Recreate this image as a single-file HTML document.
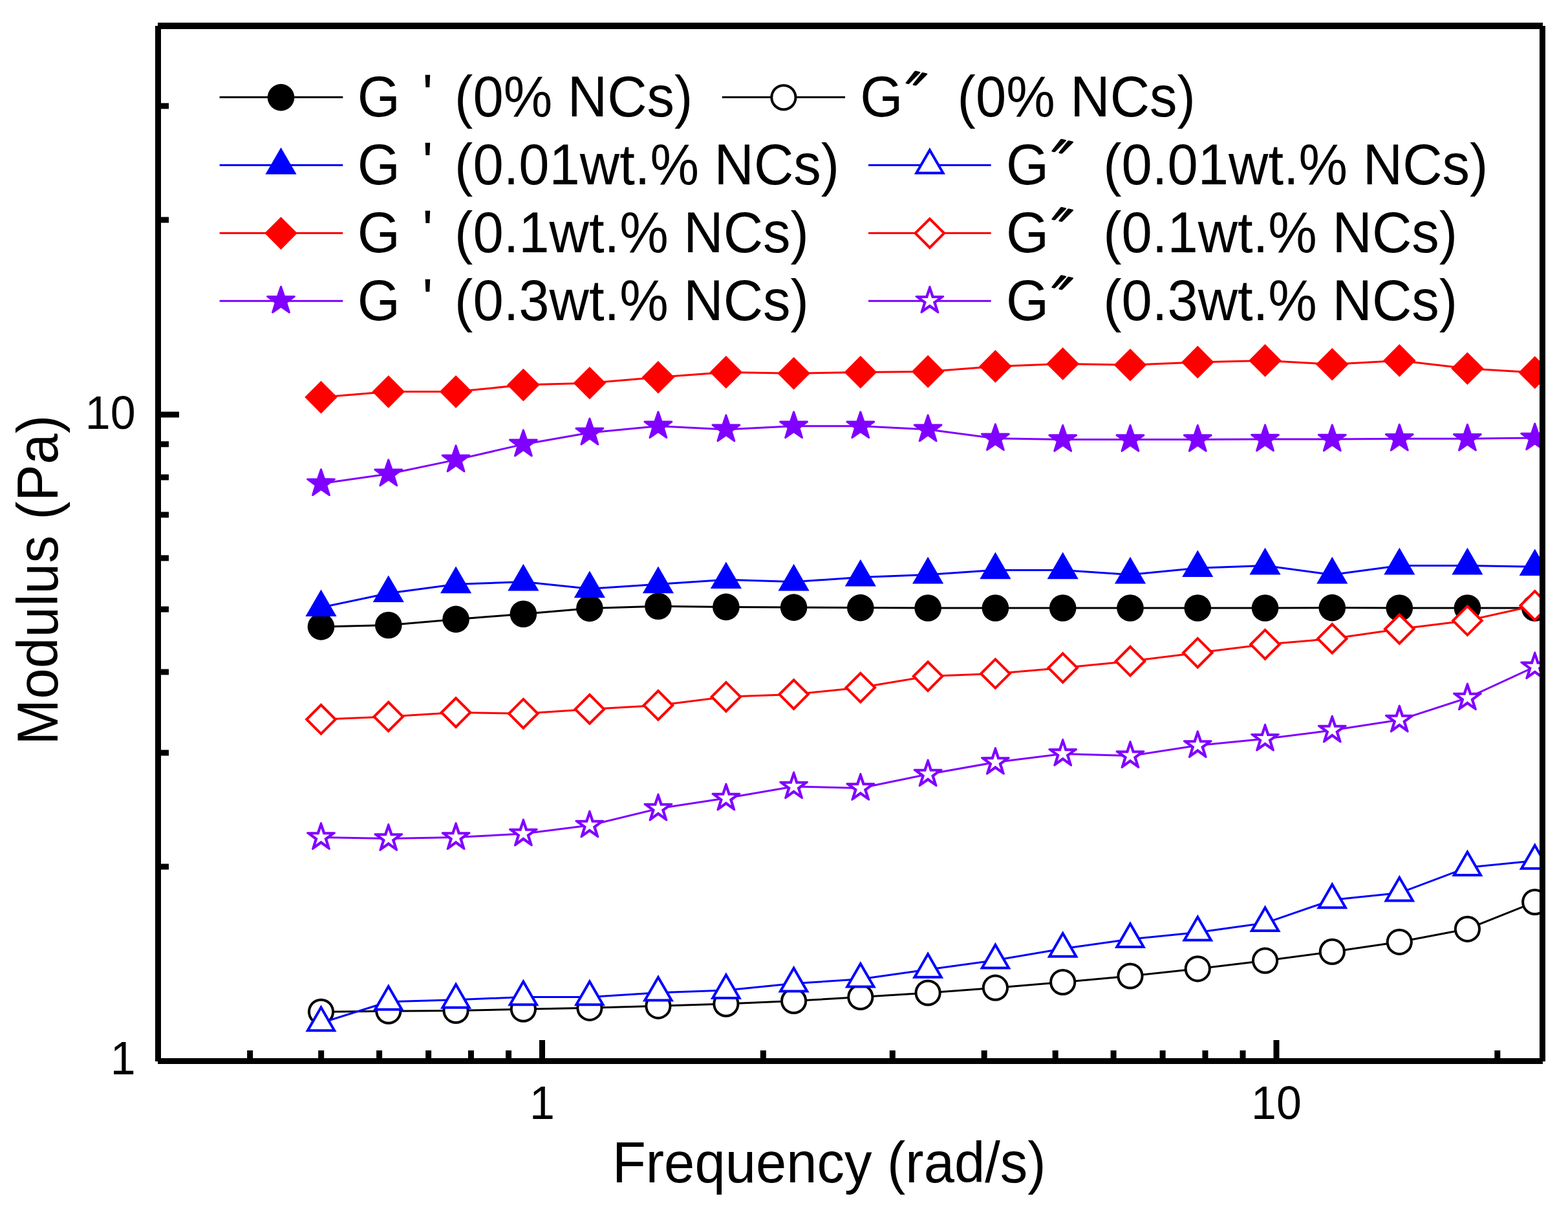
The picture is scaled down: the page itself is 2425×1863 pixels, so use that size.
<!DOCTYPE html><html><head><meta charset="utf-8"><title>Modulus vs Frequency</title><style>html,body{margin:0;padding:0;background:#fff;}svg{display:block;}</style></head><body>
<svg width="2425" height="1863" viewBox="0 0 2425 1863">
<rect x="0" y="0" width="2425" height="1863" fill="#fff"/>
<defs><clipPath id="pa"><rect x="244.5" y="40" width="2141" height="1600.5"/></clipPath></defs>
<g clip-path="url(#pa)">
<polyline points="496.5,968.9 600.79,966.5 705.08,957.4 809.37,949.3 911.9,940.4 1017.95,937.3 1122.9,938.4 1227.6,939.1 1330.82,939.6 1435.11,940 1539.4,940 1643.69,940 1747.98,940 1852.27,940 1956.56,940 2060.3,939.6 2164.3,940 2269.43,940 2373.72,940" fill="none" stroke="#000000" stroke-width="3" stroke-linejoin="round"/>
<circle cx="496.5" cy="968.9" r="20.8" fill="#000000"/><circle cx="600.79" cy="966.5" r="20.8" fill="#000000"/><circle cx="705.08" cy="957.4" r="20.8" fill="#000000"/><circle cx="809.37" cy="949.3" r="20.8" fill="#000000"/><circle cx="911.9" cy="940.4" r="20.8" fill="#000000"/><circle cx="1017.95" cy="937.3" r="20.8" fill="#000000"/><circle cx="1122.9" cy="938.4" r="20.8" fill="#000000"/><circle cx="1227.6" cy="939.1" r="20.8" fill="#000000"/><circle cx="1330.82" cy="939.6" r="20.8" fill="#000000"/><circle cx="1435.11" cy="940" r="20.8" fill="#000000"/><circle cx="1539.4" cy="940" r="20.8" fill="#000000"/><circle cx="1643.69" cy="940" r="20.8" fill="#000000"/><circle cx="1747.98" cy="940" r="20.8" fill="#000000"/><circle cx="1852.27" cy="940" r="20.8" fill="#000000"/><circle cx="1956.56" cy="940" r="20.8" fill="#000000"/><circle cx="2060.3" cy="939.6" r="20.8" fill="#000000"/><circle cx="2164.3" cy="940" r="20.8" fill="#000000"/><circle cx="2269.43" cy="940" r="20.8" fill="#000000"/><circle cx="2373.72" cy="940" r="20.8" fill="#000000"/>
<polyline points="496.5,1564.3 600.79,1563.2 705.08,1562.5 809.37,1560.2 911.9,1558.3 1017.95,1555.3 1122.9,1552.1 1227.6,1547.5 1330.82,1541.5 1435.11,1535 1539.4,1527.2 1643.69,1518.5 1747.98,1509 1852.27,1497.8 1956.56,1485.2 2060.3,1471.4 2164.3,1456.3 2269.43,1436.3 2373.72,1394.6" fill="none" stroke="#000000" stroke-width="3" stroke-linejoin="round"/>
<circle cx="496.5" cy="1564.3" r="20.6" fill="#000000"/><circle cx="496.5" cy="1564.3" r="16.6" fill="#fff"/><circle cx="600.79" cy="1563.2" r="20.6" fill="#000000"/><circle cx="600.79" cy="1563.2" r="16.6" fill="#fff"/><circle cx="705.08" cy="1562.5" r="20.6" fill="#000000"/><circle cx="705.08" cy="1562.5" r="16.6" fill="#fff"/><circle cx="809.37" cy="1560.2" r="20.6" fill="#000000"/><circle cx="809.37" cy="1560.2" r="16.6" fill="#fff"/><circle cx="911.9" cy="1558.3" r="20.6" fill="#000000"/><circle cx="911.9" cy="1558.3" r="16.6" fill="#fff"/><circle cx="1017.95" cy="1555.3" r="20.6" fill="#000000"/><circle cx="1017.95" cy="1555.3" r="16.6" fill="#fff"/><circle cx="1122.9" cy="1552.1" r="20.6" fill="#000000"/><circle cx="1122.9" cy="1552.1" r="16.6" fill="#fff"/><circle cx="1227.6" cy="1547.5" r="20.6" fill="#000000"/><circle cx="1227.6" cy="1547.5" r="16.6" fill="#fff"/><circle cx="1330.82" cy="1541.5" r="20.6" fill="#000000"/><circle cx="1330.82" cy="1541.5" r="16.6" fill="#fff"/><circle cx="1435.11" cy="1535" r="20.6" fill="#000000"/><circle cx="1435.11" cy="1535" r="16.6" fill="#fff"/><circle cx="1539.4" cy="1527.2" r="20.6" fill="#000000"/><circle cx="1539.4" cy="1527.2" r="16.6" fill="#fff"/><circle cx="1643.69" cy="1518.5" r="20.6" fill="#000000"/><circle cx="1643.69" cy="1518.5" r="16.6" fill="#fff"/><circle cx="1747.98" cy="1509" r="20.6" fill="#000000"/><circle cx="1747.98" cy="1509" r="16.6" fill="#fff"/><circle cx="1852.27" cy="1497.8" r="20.6" fill="#000000"/><circle cx="1852.27" cy="1497.8" r="16.6" fill="#fff"/><circle cx="1956.56" cy="1485.2" r="20.6" fill="#000000"/><circle cx="1956.56" cy="1485.2" r="16.6" fill="#fff"/><circle cx="2060.3" cy="1471.4" r="20.6" fill="#000000"/><circle cx="2060.3" cy="1471.4" r="16.6" fill="#fff"/><circle cx="2164.3" cy="1456.3" r="20.6" fill="#000000"/><circle cx="2164.3" cy="1456.3" r="16.6" fill="#fff"/><circle cx="2269.43" cy="1436.3" r="20.6" fill="#000000"/><circle cx="2269.43" cy="1436.3" r="16.6" fill="#fff"/><circle cx="2373.72" cy="1394.6" r="20.6" fill="#000000"/><circle cx="2373.72" cy="1394.6" r="16.6" fill="#fff"/>
<polyline points="496.5,939.2 600.79,917.2 705.08,903.3 809.37,899.6 911.9,910.3 1017.95,903.3 1122.9,896.2 1227.6,899.6 1330.82,892.5 1435.11,888.5 1539.4,881.4 1643.69,881.4 1747.98,888.5 1852.27,878.2 1956.56,874.5 2060.3,888.5 2164.3,874.5 2269.43,874.5 2373.72,876.2" fill="none" stroke="#0000FF" stroke-width="3" stroke-linejoin="round"/>
<polygon points="496.5,911.4 520.58,953.1 472.42,953.1" fill="#0000FF"/><polygon points="600.79,889.4 624.87,931.1 576.71,931.1" fill="#0000FF"/><polygon points="705.08,875.5 729.16,917.2 681,917.2" fill="#0000FF"/><polygon points="809.37,871.8 833.45,913.5 785.29,913.5" fill="#0000FF"/><polygon points="911.9,882.5 935.98,924.2 887.82,924.2" fill="#0000FF"/><polygon points="1017.95,875.5 1042.03,917.2 993.87,917.2" fill="#0000FF"/><polygon points="1122.9,868.4 1146.98,910.1 1098.82,910.1" fill="#0000FF"/><polygon points="1227.6,871.8 1251.68,913.5 1203.52,913.5" fill="#0000FF"/><polygon points="1330.82,864.7 1354.9,906.4 1306.74,906.4" fill="#0000FF"/><polygon points="1435.11,860.7 1459.19,902.4 1411.03,902.4" fill="#0000FF"/><polygon points="1539.4,853.6 1563.48,895.3 1515.32,895.3" fill="#0000FF"/><polygon points="1643.69,853.6 1667.77,895.3 1619.61,895.3" fill="#0000FF"/><polygon points="1747.98,860.7 1772.06,902.4 1723.9,902.4" fill="#0000FF"/><polygon points="1852.27,850.4 1876.35,892.1 1828.19,892.1" fill="#0000FF"/><polygon points="1956.56,846.7 1980.64,888.4 1932.48,888.4" fill="#0000FF"/><polygon points="2060.3,860.7 2084.38,902.4 2036.22,902.4" fill="#0000FF"/><polygon points="2164.3,846.7 2188.38,888.4 2140.22,888.4" fill="#0000FF"/><polygon points="2269.43,846.7 2293.51,888.4 2245.35,888.4" fill="#0000FF"/><polygon points="2373.72,848.4 2397.8,890.1 2349.64,890.1" fill="#0000FF"/>
<polyline points="496.5,1581.4 600.79,1548.8 705.08,1545.8 809.37,1541.4 911.9,1541.4 1017.95,1534.7 1122.9,1531 1227.6,1520.6 1330.82,1513.7 1435.11,1498.9 1539.4,1484.6 1643.69,1466.8 1747.98,1452 1852.27,1441.6 1956.56,1427.1 2060.3,1391.3 2164.3,1380.6 2269.43,1341.1 2373.72,1330.8" fill="none" stroke="#0000FF" stroke-width="3" stroke-linejoin="round"/>
<polygon points="496.5,1553.6 520.58,1595.3 472.42,1595.3" fill="#0000FF"/><polygon points="496.5,1561.6 513.65,1591.3 479.35,1591.3" fill="#fff"/><polygon points="600.79,1521 624.87,1562.7 576.71,1562.7" fill="#0000FF"/><polygon points="600.79,1529 617.94,1558.7 583.64,1558.7" fill="#fff"/><polygon points="705.08,1518 729.16,1559.7 681,1559.7" fill="#0000FF"/><polygon points="705.08,1526 722.23,1555.7 687.93,1555.7" fill="#fff"/><polygon points="809.37,1513.6 833.45,1555.3 785.29,1555.3" fill="#0000FF"/><polygon points="809.37,1521.6 826.52,1551.3 792.22,1551.3" fill="#fff"/><polygon points="911.9,1513.6 935.98,1555.3 887.82,1555.3" fill="#0000FF"/><polygon points="911.9,1521.6 929.05,1551.3 894.75,1551.3" fill="#fff"/><polygon points="1017.95,1506.9 1042.03,1548.6 993.87,1548.6" fill="#0000FF"/><polygon points="1017.95,1514.9 1035.1,1544.6 1000.8,1544.6" fill="#fff"/><polygon points="1122.9,1503.2 1146.98,1544.9 1098.82,1544.9" fill="#0000FF"/><polygon points="1122.9,1511.2 1140.05,1540.9 1105.75,1540.9" fill="#fff"/><polygon points="1227.6,1492.8 1251.68,1534.5 1203.52,1534.5" fill="#0000FF"/><polygon points="1227.6,1500.8 1244.75,1530.5 1210.45,1530.5" fill="#fff"/><polygon points="1330.82,1485.9 1354.9,1527.6 1306.74,1527.6" fill="#0000FF"/><polygon points="1330.82,1493.9 1347.97,1523.6 1313.67,1523.6" fill="#fff"/><polygon points="1435.11,1471.1 1459.19,1512.8 1411.03,1512.8" fill="#0000FF"/><polygon points="1435.11,1479.1 1452.26,1508.8 1417.96,1508.8" fill="#fff"/><polygon points="1539.4,1456.8 1563.48,1498.5 1515.32,1498.5" fill="#0000FF"/><polygon points="1539.4,1464.8 1556.55,1494.5 1522.25,1494.5" fill="#fff"/><polygon points="1643.69,1439 1667.77,1480.7 1619.61,1480.7" fill="#0000FF"/><polygon points="1643.69,1447 1660.84,1476.7 1626.54,1476.7" fill="#fff"/><polygon points="1747.98,1424.2 1772.06,1465.9 1723.9,1465.9" fill="#0000FF"/><polygon points="1747.98,1432.2 1765.13,1461.9 1730.83,1461.9" fill="#fff"/><polygon points="1852.27,1413.8 1876.35,1455.5 1828.19,1455.5" fill="#0000FF"/><polygon points="1852.27,1421.8 1869.42,1451.5 1835.12,1451.5" fill="#fff"/><polygon points="1956.56,1399.3 1980.64,1441 1932.48,1441" fill="#0000FF"/><polygon points="1956.56,1407.3 1973.71,1437 1939.41,1437" fill="#fff"/><polygon points="2060.3,1363.5 2084.38,1405.2 2036.22,1405.2" fill="#0000FF"/><polygon points="2060.3,1371.5 2077.45,1401.2 2043.15,1401.2" fill="#fff"/><polygon points="2164.3,1352.8 2188.38,1394.5 2140.22,1394.5" fill="#0000FF"/><polygon points="2164.3,1360.8 2181.45,1390.5 2147.15,1390.5" fill="#fff"/><polygon points="2269.43,1313.3 2293.51,1355 2245.35,1355" fill="#0000FF"/><polygon points="2269.43,1321.3 2286.58,1351 2252.28,1351" fill="#fff"/><polygon points="2373.72,1303 2397.8,1344.7 2349.64,1344.7" fill="#0000FF"/><polygon points="2373.72,1311 2390.87,1340.7 2356.57,1340.7" fill="#fff"/>
<polyline points="496.5,614.1 600.79,605.6 705.08,605.6 809.37,595.1 911.9,592.3 1017.95,583.3 1122.9,575.4 1227.6,577.2 1330.82,575.4 1435.11,574.4 1539.4,566.4 1643.69,562.4 1747.98,564.3 1852.27,559.9 1956.56,557.4 2060.3,563.3 2164.3,557.4 2269.43,569.7 2373.72,575.9" fill="none" stroke="#FF0000" stroke-width="3" stroke-linejoin="round"/>
<polygon points="496.5,588.8 521.8,614.1 496.5,639.4 471.2,614.1" fill="#FF0000"/><polygon points="600.79,580.3 626.09,605.6 600.79,630.9 575.49,605.6" fill="#FF0000"/><polygon points="705.08,580.3 730.38,605.6 705.08,630.9 679.78,605.6" fill="#FF0000"/><polygon points="809.37,569.8 834.67,595.1 809.37,620.4 784.07,595.1" fill="#FF0000"/><polygon points="911.9,567 937.2,592.3 911.9,617.6 886.6,592.3" fill="#FF0000"/><polygon points="1017.95,558 1043.25,583.3 1017.95,608.6 992.65,583.3" fill="#FF0000"/><polygon points="1122.9,550.1 1148.2,575.4 1122.9,600.7 1097.6,575.4" fill="#FF0000"/><polygon points="1227.6,551.9 1252.9,577.2 1227.6,602.5 1202.3,577.2" fill="#FF0000"/><polygon points="1330.82,550.1 1356.12,575.4 1330.82,600.7 1305.52,575.4" fill="#FF0000"/><polygon points="1435.11,549.1 1460.41,574.4 1435.11,599.7 1409.81,574.4" fill="#FF0000"/><polygon points="1539.4,541.1 1564.7,566.4 1539.4,591.7 1514.1,566.4" fill="#FF0000"/><polygon points="1643.69,537.1 1668.99,562.4 1643.69,587.7 1618.39,562.4" fill="#FF0000"/><polygon points="1747.98,539 1773.28,564.3 1747.98,589.6 1722.68,564.3" fill="#FF0000"/><polygon points="1852.27,534.6 1877.57,559.9 1852.27,585.2 1826.97,559.9" fill="#FF0000"/><polygon points="1956.56,532.1 1981.86,557.4 1956.56,582.7 1931.26,557.4" fill="#FF0000"/><polygon points="2060.3,538 2085.6,563.3 2060.3,588.6 2035,563.3" fill="#FF0000"/><polygon points="2164.3,532.1 2189.6,557.4 2164.3,582.7 2139,557.4" fill="#FF0000"/><polygon points="2269.43,544.4 2294.73,569.7 2269.43,595 2244.13,569.7" fill="#FF0000"/><polygon points="2373.72,550.6 2399.02,575.9 2373.72,601.2 2348.42,575.9" fill="#FF0000"/>
<polyline points="496.5,1112.2 600.79,1107.9 705.08,1101.6 809.37,1103.3 911.9,1096.4 1017.95,1090.4 1122.9,1077.3 1227.6,1073.6 1330.82,1063.1 1435.11,1045.6 1539.4,1041.5 1643.69,1032.6 1747.98,1022.2 1852.27,1009.3 1956.56,996.3 2060.3,987.4 2164.3,972.6 2269.43,959.5 2373.72,936.3" fill="none" stroke="#FF0000" stroke-width="3" stroke-linejoin="round"/>
<polygon points="496.5,1087.1 521.6,1112.2 496.5,1137.3 471.4,1112.2" fill="#FF0000"/><polygon points="496.5,1092.76 515.94,1112.2 496.5,1131.64 477.06,1112.2" fill="#fff"/><polygon points="600.79,1082.8 625.89,1107.9 600.79,1133 575.69,1107.9" fill="#FF0000"/><polygon points="600.79,1088.46 620.23,1107.9 600.79,1127.34 581.35,1107.9" fill="#fff"/><polygon points="705.08,1076.5 730.18,1101.6 705.08,1126.7 679.98,1101.6" fill="#FF0000"/><polygon points="705.08,1082.16 724.52,1101.6 705.08,1121.04 685.64,1101.6" fill="#fff"/><polygon points="809.37,1078.2 834.47,1103.3 809.37,1128.4 784.27,1103.3" fill="#FF0000"/><polygon points="809.37,1083.86 828.81,1103.3 809.37,1122.74 789.93,1103.3" fill="#fff"/><polygon points="911.9,1071.3 937,1096.4 911.9,1121.5 886.8,1096.4" fill="#FF0000"/><polygon points="911.9,1076.96 931.34,1096.4 911.9,1115.84 892.46,1096.4" fill="#fff"/><polygon points="1017.95,1065.3 1043.05,1090.4 1017.95,1115.5 992.85,1090.4" fill="#FF0000"/><polygon points="1017.95,1070.96 1037.39,1090.4 1017.95,1109.84 998.51,1090.4" fill="#fff"/><polygon points="1122.9,1052.2 1148,1077.3 1122.9,1102.4 1097.8,1077.3" fill="#FF0000"/><polygon points="1122.9,1057.86 1142.34,1077.3 1122.9,1096.74 1103.46,1077.3" fill="#fff"/><polygon points="1227.6,1048.5 1252.7,1073.6 1227.6,1098.7 1202.5,1073.6" fill="#FF0000"/><polygon points="1227.6,1054.16 1247.04,1073.6 1227.6,1093.04 1208.16,1073.6" fill="#fff"/><polygon points="1330.82,1038 1355.92,1063.1 1330.82,1088.2 1305.72,1063.1" fill="#FF0000"/><polygon points="1330.82,1043.66 1350.26,1063.1 1330.82,1082.54 1311.38,1063.1" fill="#fff"/><polygon points="1435.11,1020.5 1460.21,1045.6 1435.11,1070.7 1410.01,1045.6" fill="#FF0000"/><polygon points="1435.11,1026.16 1454.55,1045.6 1435.11,1065.04 1415.67,1045.6" fill="#fff"/><polygon points="1539.4,1016.4 1564.5,1041.5 1539.4,1066.6 1514.3,1041.5" fill="#FF0000"/><polygon points="1539.4,1022.06 1558.84,1041.5 1539.4,1060.94 1519.96,1041.5" fill="#fff"/><polygon points="1643.69,1007.5 1668.79,1032.6 1643.69,1057.7 1618.59,1032.6" fill="#FF0000"/><polygon points="1643.69,1013.16 1663.13,1032.6 1643.69,1052.04 1624.25,1032.6" fill="#fff"/><polygon points="1747.98,997.1 1773.08,1022.2 1747.98,1047.3 1722.88,1022.2" fill="#FF0000"/><polygon points="1747.98,1002.76 1767.42,1022.2 1747.98,1041.64 1728.54,1022.2" fill="#fff"/><polygon points="1852.27,984.2 1877.37,1009.3 1852.27,1034.4 1827.17,1009.3" fill="#FF0000"/><polygon points="1852.27,989.86 1871.71,1009.3 1852.27,1028.74 1832.83,1009.3" fill="#fff"/><polygon points="1956.56,971.2 1981.66,996.3 1956.56,1021.4 1931.46,996.3" fill="#FF0000"/><polygon points="1956.56,976.86 1976,996.3 1956.56,1015.74 1937.12,996.3" fill="#fff"/><polygon points="2060.3,962.3 2085.4,987.4 2060.3,1012.5 2035.2,987.4" fill="#FF0000"/><polygon points="2060.3,967.96 2079.74,987.4 2060.3,1006.84 2040.86,987.4" fill="#fff"/><polygon points="2164.3,947.5 2189.4,972.6 2164.3,997.7 2139.2,972.6" fill="#FF0000"/><polygon points="2164.3,953.16 2183.74,972.6 2164.3,992.04 2144.86,972.6" fill="#fff"/><polygon points="2269.43,934.4 2294.53,959.5 2269.43,984.6 2244.33,959.5" fill="#FF0000"/><polygon points="2269.43,940.06 2288.87,959.5 2269.43,978.94 2249.99,959.5" fill="#fff"/><polygon points="2373.72,911.2 2398.82,936.3 2373.72,961.4 2348.62,936.3" fill="#FF0000"/><polygon points="2373.72,916.86 2393.16,936.3 2373.72,955.74 2354.28,936.3" fill="#fff"/>
<polyline points="496.5,747.7 600.79,732.8 705.08,710.9 809.37,686.9 911.9,669.1 1017.95,658.8 1122.9,663.9 1227.6,658.8 1330.82,658.8 1435.11,663.9 1539.4,677.8 1643.69,679.5 1747.98,679.5 1852.27,679.5 1956.56,679 2060.3,679 2164.3,678.3 2269.43,678.3 2373.72,677" fill="none" stroke="#8000FF" stroke-width="3" stroke-linejoin="round"/>
<polygon points="496.5,725.7 501.61,740.66 517.42,740.9 504.77,750.39 509.43,765.5 496.5,756.4 483.57,765.5 488.23,750.39 475.58,740.9 491.39,740.66" fill="#8000FF" stroke="#8000FF" stroke-width="3" stroke-linejoin="round"/><polygon points="600.79,710.8 605.9,725.76 621.71,726 609.06,735.49 613.72,750.6 600.79,741.5 587.86,750.6 592.52,735.49 579.87,726 595.68,725.76" fill="#8000FF" stroke="#8000FF" stroke-width="3" stroke-linejoin="round"/><polygon points="705.08,688.9 710.19,703.86 726,704.1 713.35,713.59 718.01,728.7 705.08,719.6 692.15,728.7 696.81,713.59 684.16,704.1 699.97,703.86" fill="#8000FF" stroke="#8000FF" stroke-width="3" stroke-linejoin="round"/><polygon points="809.37,664.9 814.48,679.86 830.29,680.1 817.64,689.59 822.3,704.7 809.37,695.6 796.44,704.7 801.1,689.59 788.45,680.1 804.26,679.86" fill="#8000FF" stroke="#8000FF" stroke-width="3" stroke-linejoin="round"/><polygon points="911.9,647.1 917.01,662.06 932.82,662.3 920.17,671.79 924.83,686.9 911.9,677.8 898.97,686.9 903.63,671.79 890.98,662.3 906.79,662.06" fill="#8000FF" stroke="#8000FF" stroke-width="3" stroke-linejoin="round"/><polygon points="1017.95,636.8 1023.06,651.76 1038.87,652 1026.22,661.49 1030.88,676.6 1017.95,667.5 1005.02,676.6 1009.68,661.49 997.03,652 1012.84,651.76" fill="#8000FF" stroke="#8000FF" stroke-width="3" stroke-linejoin="round"/><polygon points="1122.9,641.9 1128.01,656.86 1143.82,657.1 1131.17,666.59 1135.83,681.7 1122.9,672.6 1109.97,681.7 1114.63,666.59 1101.98,657.1 1117.79,656.86" fill="#8000FF" stroke="#8000FF" stroke-width="3" stroke-linejoin="round"/><polygon points="1227.6,636.8 1232.71,651.76 1248.52,652 1235.87,661.49 1240.53,676.6 1227.6,667.5 1214.67,676.6 1219.33,661.49 1206.68,652 1222.49,651.76" fill="#8000FF" stroke="#8000FF" stroke-width="3" stroke-linejoin="round"/><polygon points="1330.82,636.8 1335.93,651.76 1351.74,652 1339.09,661.49 1343.75,676.6 1330.82,667.5 1317.89,676.6 1322.55,661.49 1309.9,652 1325.71,651.76" fill="#8000FF" stroke="#8000FF" stroke-width="3" stroke-linejoin="round"/><polygon points="1435.11,641.9 1440.22,656.86 1456.03,657.1 1443.38,666.59 1448.04,681.7 1435.11,672.6 1422.18,681.7 1426.84,666.59 1414.19,657.1 1430,656.86" fill="#8000FF" stroke="#8000FF" stroke-width="3" stroke-linejoin="round"/><polygon points="1539.4,655.8 1544.51,670.76 1560.32,671 1547.67,680.49 1552.33,695.6 1539.4,686.5 1526.47,695.6 1531.13,680.49 1518.48,671 1534.29,670.76" fill="#8000FF" stroke="#8000FF" stroke-width="3" stroke-linejoin="round"/><polygon points="1643.69,657.5 1648.8,672.46 1664.61,672.7 1651.96,682.19 1656.62,697.3 1643.69,688.2 1630.76,697.3 1635.42,682.19 1622.77,672.7 1638.58,672.46" fill="#8000FF" stroke="#8000FF" stroke-width="3" stroke-linejoin="round"/><polygon points="1747.98,657.5 1753.09,672.46 1768.9,672.7 1756.25,682.19 1760.91,697.3 1747.98,688.2 1735.05,697.3 1739.71,682.19 1727.06,672.7 1742.87,672.46" fill="#8000FF" stroke="#8000FF" stroke-width="3" stroke-linejoin="round"/><polygon points="1852.27,657.5 1857.38,672.46 1873.19,672.7 1860.54,682.19 1865.2,697.3 1852.27,688.2 1839.34,697.3 1844,682.19 1831.35,672.7 1847.16,672.46" fill="#8000FF" stroke="#8000FF" stroke-width="3" stroke-linejoin="round"/><polygon points="1956.56,657 1961.67,671.96 1977.48,672.2 1964.83,681.69 1969.49,696.8 1956.56,687.7 1943.63,696.8 1948.29,681.69 1935.64,672.2 1951.45,671.96" fill="#8000FF" stroke="#8000FF" stroke-width="3" stroke-linejoin="round"/><polygon points="2060.3,657 2065.41,671.96 2081.22,672.2 2068.57,681.69 2073.23,696.8 2060.3,687.7 2047.37,696.8 2052.03,681.69 2039.38,672.2 2055.19,671.96" fill="#8000FF" stroke="#8000FF" stroke-width="3" stroke-linejoin="round"/><polygon points="2164.3,656.3 2169.41,671.26 2185.22,671.5 2172.57,680.99 2177.23,696.1 2164.3,687 2151.37,696.1 2156.03,680.99 2143.38,671.5 2159.19,671.26" fill="#8000FF" stroke="#8000FF" stroke-width="3" stroke-linejoin="round"/><polygon points="2269.43,656.3 2274.54,671.26 2290.35,671.5 2277.7,680.99 2282.36,696.1 2269.43,687 2256.5,696.1 2261.16,680.99 2248.51,671.5 2264.32,671.26" fill="#8000FF" stroke="#8000FF" stroke-width="3" stroke-linejoin="round"/><polygon points="2373.72,655 2378.83,669.96 2394.64,670.2 2381.99,679.69 2386.65,694.8 2373.72,685.7 2360.79,694.8 2365.45,679.69 2352.8,670.2 2368.61,669.96" fill="#8000FF" stroke="#8000FF" stroke-width="3" stroke-linejoin="round"/>
<polyline points="496.5,1294.6 600.79,1296.5 705.08,1294.6 809.37,1289.1 911.9,1276 1017.95,1250.1 1122.9,1234.1 1227.6,1216 1330.82,1218.5 1435.11,1197 1539.4,1178.5 1643.69,1165.4 1747.98,1168.6 1852.27,1152.6 1956.56,1142.2 2060.3,1129.1 2164.3,1113.1 2269.43,1079 2373.72,1030.9" fill="none" stroke="#8000FF" stroke-width="3" stroke-linejoin="round"/>
<polygon points="496.5,1272.6 501.61,1287.56 517.42,1287.8 504.77,1297.29 509.43,1312.4 496.5,1303.3 483.57,1312.4 488.23,1297.29 475.58,1287.8 491.39,1287.56" fill="#8000FF" stroke="#8000FF" stroke-width="3" stroke-linejoin="round"/><polygon points="496.5,1280.8 499.6,1290.34 509.62,1290.34 501.51,1296.23 504.61,1305.76 496.5,1299.87 488.39,1305.76 491.49,1296.23 483.38,1290.34 493.4,1290.34" fill="#fff"/><polygon points="600.79,1274.5 605.9,1289.46 621.71,1289.7 609.06,1299.19 613.72,1314.3 600.79,1305.2 587.86,1314.3 592.52,1299.19 579.87,1289.7 595.68,1289.46" fill="#8000FF" stroke="#8000FF" stroke-width="3" stroke-linejoin="round"/><polygon points="600.79,1282.7 603.89,1292.24 613.91,1292.24 605.8,1298.13 608.9,1307.66 600.79,1301.77 592.68,1307.66 595.78,1298.13 587.67,1292.24 597.69,1292.24" fill="#fff"/><polygon points="705.08,1272.6 710.19,1287.56 726,1287.8 713.35,1297.29 718.01,1312.4 705.08,1303.3 692.15,1312.4 696.81,1297.29 684.16,1287.8 699.97,1287.56" fill="#8000FF" stroke="#8000FF" stroke-width="3" stroke-linejoin="round"/><polygon points="705.08,1280.8 708.18,1290.34 718.2,1290.34 710.09,1296.23 713.19,1305.76 705.08,1299.87 696.97,1305.76 700.07,1296.23 691.96,1290.34 701.98,1290.34" fill="#fff"/><polygon points="809.37,1267.1 814.48,1282.06 830.29,1282.3 817.64,1291.79 822.3,1306.9 809.37,1297.8 796.44,1306.9 801.1,1291.79 788.45,1282.3 804.26,1282.06" fill="#8000FF" stroke="#8000FF" stroke-width="3" stroke-linejoin="round"/><polygon points="809.37,1275.3 812.47,1284.84 822.49,1284.84 814.38,1290.73 817.48,1300.26 809.37,1294.37 801.26,1300.26 804.36,1290.73 796.25,1284.84 806.27,1284.84" fill="#fff"/><polygon points="911.9,1254 917.01,1268.96 932.82,1269.2 920.17,1278.69 924.83,1293.8 911.9,1284.7 898.97,1293.8 903.63,1278.69 890.98,1269.2 906.79,1268.96" fill="#8000FF" stroke="#8000FF" stroke-width="3" stroke-linejoin="round"/><polygon points="911.9,1262.2 915,1271.74 925.02,1271.74 916.91,1277.63 920.01,1287.16 911.9,1281.27 903.79,1287.16 906.89,1277.63 898.78,1271.74 908.8,1271.74" fill="#fff"/><polygon points="1017.95,1228.1 1023.06,1243.06 1038.87,1243.3 1026.22,1252.79 1030.88,1267.9 1017.95,1258.8 1005.02,1267.9 1009.68,1252.79 997.03,1243.3 1012.84,1243.06" fill="#8000FF" stroke="#8000FF" stroke-width="3" stroke-linejoin="round"/><polygon points="1017.95,1236.3 1021.05,1245.84 1031.07,1245.84 1022.96,1251.73 1026.06,1261.26 1017.95,1255.37 1009.84,1261.26 1012.94,1251.73 1004.83,1245.84 1014.85,1245.84" fill="#fff"/><polygon points="1122.9,1212.1 1128.01,1227.06 1143.82,1227.3 1131.17,1236.79 1135.83,1251.9 1122.9,1242.8 1109.97,1251.9 1114.63,1236.79 1101.98,1227.3 1117.79,1227.06" fill="#8000FF" stroke="#8000FF" stroke-width="3" stroke-linejoin="round"/><polygon points="1122.9,1220.3 1126,1229.84 1136.02,1229.84 1127.91,1235.73 1131.01,1245.26 1122.9,1239.37 1114.79,1245.26 1117.89,1235.73 1109.78,1229.84 1119.8,1229.84" fill="#fff"/><polygon points="1227.6,1194 1232.71,1208.96 1248.52,1209.2 1235.87,1218.69 1240.53,1233.8 1227.6,1224.7 1214.67,1233.8 1219.33,1218.69 1206.68,1209.2 1222.49,1208.96" fill="#8000FF" stroke="#8000FF" stroke-width="3" stroke-linejoin="round"/><polygon points="1227.6,1202.2 1230.7,1211.74 1240.72,1211.74 1232.61,1217.63 1235.71,1227.16 1227.6,1221.27 1219.49,1227.16 1222.59,1217.63 1214.48,1211.74 1224.5,1211.74" fill="#fff"/><polygon points="1330.82,1196.5 1335.93,1211.46 1351.74,1211.7 1339.09,1221.19 1343.75,1236.3 1330.82,1227.2 1317.89,1236.3 1322.55,1221.19 1309.9,1211.7 1325.71,1211.46" fill="#8000FF" stroke="#8000FF" stroke-width="3" stroke-linejoin="round"/><polygon points="1330.82,1204.7 1333.92,1214.24 1343.94,1214.24 1335.83,1220.13 1338.93,1229.66 1330.82,1223.77 1322.71,1229.66 1325.81,1220.13 1317.7,1214.24 1327.72,1214.24" fill="#fff"/><polygon points="1435.11,1175 1440.22,1189.96 1456.03,1190.2 1443.38,1199.69 1448.04,1214.8 1435.11,1205.7 1422.18,1214.8 1426.84,1199.69 1414.19,1190.2 1430,1189.96" fill="#8000FF" stroke="#8000FF" stroke-width="3" stroke-linejoin="round"/><polygon points="1435.11,1183.2 1438.21,1192.74 1448.23,1192.74 1440.12,1198.63 1443.22,1208.16 1435.11,1202.27 1427,1208.16 1430.1,1198.63 1421.99,1192.74 1432.01,1192.74" fill="#fff"/><polygon points="1539.4,1156.5 1544.51,1171.46 1560.32,1171.7 1547.67,1181.19 1552.33,1196.3 1539.4,1187.2 1526.47,1196.3 1531.13,1181.19 1518.48,1171.7 1534.29,1171.46" fill="#8000FF" stroke="#8000FF" stroke-width="3" stroke-linejoin="round"/><polygon points="1539.4,1164.7 1542.5,1174.24 1552.52,1174.24 1544.41,1180.13 1547.51,1189.66 1539.4,1183.77 1531.29,1189.66 1534.39,1180.13 1526.28,1174.24 1536.3,1174.24" fill="#fff"/><polygon points="1643.69,1143.4 1648.8,1158.36 1664.61,1158.6 1651.96,1168.09 1656.62,1183.2 1643.69,1174.1 1630.76,1183.2 1635.42,1168.09 1622.77,1158.6 1638.58,1158.36" fill="#8000FF" stroke="#8000FF" stroke-width="3" stroke-linejoin="round"/><polygon points="1643.69,1151.6 1646.79,1161.14 1656.81,1161.14 1648.7,1167.03 1651.8,1176.56 1643.69,1170.67 1635.58,1176.56 1638.68,1167.03 1630.57,1161.14 1640.59,1161.14" fill="#fff"/><polygon points="1747.98,1146.6 1753.09,1161.56 1768.9,1161.8 1756.25,1171.29 1760.91,1186.4 1747.98,1177.3 1735.05,1186.4 1739.71,1171.29 1727.06,1161.8 1742.87,1161.56" fill="#8000FF" stroke="#8000FF" stroke-width="3" stroke-linejoin="round"/><polygon points="1747.98,1154.8 1751.08,1164.34 1761.1,1164.34 1752.99,1170.23 1756.09,1179.76 1747.98,1173.87 1739.87,1179.76 1742.97,1170.23 1734.86,1164.34 1744.88,1164.34" fill="#fff"/><polygon points="1852.27,1130.6 1857.38,1145.56 1873.19,1145.8 1860.54,1155.29 1865.2,1170.4 1852.27,1161.3 1839.34,1170.4 1844,1155.29 1831.35,1145.8 1847.16,1145.56" fill="#8000FF" stroke="#8000FF" stroke-width="3" stroke-linejoin="round"/><polygon points="1852.27,1138.8 1855.37,1148.34 1865.39,1148.34 1857.28,1154.23 1860.38,1163.76 1852.27,1157.87 1844.16,1163.76 1847.26,1154.23 1839.15,1148.34 1849.17,1148.34" fill="#fff"/><polygon points="1956.56,1120.2 1961.67,1135.16 1977.48,1135.4 1964.83,1144.89 1969.49,1160 1956.56,1150.9 1943.63,1160 1948.29,1144.89 1935.64,1135.4 1951.45,1135.16" fill="#8000FF" stroke="#8000FF" stroke-width="3" stroke-linejoin="round"/><polygon points="1956.56,1128.4 1959.66,1137.94 1969.68,1137.94 1961.57,1143.83 1964.67,1153.36 1956.56,1147.47 1948.45,1153.36 1951.55,1143.83 1943.44,1137.94 1953.46,1137.94" fill="#fff"/><polygon points="2060.3,1107.1 2065.41,1122.06 2081.22,1122.3 2068.57,1131.79 2073.23,1146.9 2060.3,1137.8 2047.37,1146.9 2052.03,1131.79 2039.38,1122.3 2055.19,1122.06" fill="#8000FF" stroke="#8000FF" stroke-width="3" stroke-linejoin="round"/><polygon points="2060.3,1115.3 2063.4,1124.84 2073.42,1124.84 2065.31,1130.73 2068.41,1140.26 2060.3,1134.37 2052.19,1140.26 2055.29,1130.73 2047.18,1124.84 2057.2,1124.84" fill="#fff"/><polygon points="2164.3,1091.1 2169.41,1106.06 2185.22,1106.3 2172.57,1115.79 2177.23,1130.9 2164.3,1121.8 2151.37,1130.9 2156.03,1115.79 2143.38,1106.3 2159.19,1106.06" fill="#8000FF" stroke="#8000FF" stroke-width="3" stroke-linejoin="round"/><polygon points="2164.3,1099.3 2167.4,1108.84 2177.42,1108.84 2169.31,1114.73 2172.41,1124.26 2164.3,1118.37 2156.19,1124.26 2159.29,1114.73 2151.18,1108.84 2161.2,1108.84" fill="#fff"/><polygon points="2269.43,1057 2274.54,1071.96 2290.35,1072.2 2277.7,1081.69 2282.36,1096.8 2269.43,1087.7 2256.5,1096.8 2261.16,1081.69 2248.51,1072.2 2264.32,1071.96" fill="#8000FF" stroke="#8000FF" stroke-width="3" stroke-linejoin="round"/><polygon points="2269.43,1065.2 2272.53,1074.74 2282.55,1074.74 2274.44,1080.63 2277.54,1090.16 2269.43,1084.27 2261.32,1090.16 2264.42,1080.63 2256.31,1074.74 2266.33,1074.74" fill="#fff"/><polygon points="2373.72,1008.9 2378.83,1023.86 2394.64,1024.1 2381.99,1033.59 2386.65,1048.7 2373.72,1039.6 2360.79,1048.7 2365.45,1033.59 2352.8,1024.1 2368.61,1023.86" fill="#8000FF" stroke="#8000FF" stroke-width="3" stroke-linejoin="round"/><polygon points="2373.72,1017.1 2376.82,1026.64 2386.84,1026.64 2378.73,1032.53 2381.83,1042.06 2373.72,1036.17 2365.61,1042.06 2368.71,1032.53 2360.6,1026.64 2370.62,1026.64" fill="#fff"/>
</g>
<g fill="#000">
<rect x="244" y="35" width="2142" height="10"/>
<rect x="2381" y="40" width="9" height="1601"/>
<rect x="244" y="1636" width="2142" height="9"/>
<rect x="240" y="40" width="9" height="1601"/>
<rect x="382.14" y="1624" width="9" height="14"/>
<rect x="492.18" y="1624" width="9" height="14"/>
<rect x="582.09" y="1624" width="9" height="14"/>
<rect x="658.11" y="1624" width="9" height="14"/>
<rect x="723.96" y="1624" width="9" height="14"/>
<rect x="782.04" y="1624" width="9" height="14"/>
<rect x="1175.82" y="1624" width="9" height="14"/>
<rect x="1375.77" y="1624" width="9" height="14"/>
<rect x="1517.64" y="1624" width="9" height="14"/>
<rect x="1627.68" y="1624" width="9" height="14"/>
<rect x="1717.59" y="1624" width="9" height="14"/>
<rect x="1793.61" y="1624" width="9" height="14"/>
<rect x="1859.46" y="1624" width="9" height="14"/>
<rect x="1917.54" y="1624" width="9" height="14"/>
<rect x="2311.32" y="1624" width="9" height="14"/>
<rect x="834" y="1608" width="9" height="30"/>
<rect x="1969.5" y="1608" width="9" height="30"/>
<rect x="247" y="1335.47" width="14" height="9"/>
<rect x="247" y="1159.38" width="14" height="9"/>
<rect x="247" y="1034.44" width="14" height="9"/>
<rect x="247" y="937.53" width="14" height="9"/>
<rect x="247" y="858.35" width="14" height="9"/>
<rect x="247" y="791.4" width="14" height="9"/>
<rect x="247" y="733.41" width="14" height="9"/>
<rect x="247" y="682.26" width="14" height="9"/>
<rect x="247" y="335.47" width="14" height="9"/>
<rect x="247" y="159.38" width="14" height="9"/>
<rect x="247" y="636.5" width="30" height="9"/>
</g>
<text transform="translate(209.6 662.9) scale(1 1.0407)" font-family='"Liberation Sans", Arial, sans-serif' font-size="70" text-anchor="end">10</text>
<text transform="translate(209.6 1660.9) scale(1 1.0407)" font-family='"Liberation Sans", Arial, sans-serif' font-size="70" text-anchor="end">1</text>
<text transform="translate(838.5 1729.7) scale(1 1.0407)" font-family='"Liberation Sans", Arial, sans-serif' font-size="70" text-anchor="middle">1</text>
<text transform="translate(1974 1729.7) scale(1 1.0407)" font-family='"Liberation Sans", Arial, sans-serif' font-size="70" text-anchor="middle">10</text>
<text transform="translate(946.9 1828) scale(1 1.0407)" font-family='"Liberation Sans", Arial, sans-serif' font-size="85" text-anchor="start">Frequency (rad/s)</text>
<text transform="translate(89 1151.8) rotate(-90) scale(1 1.0407)" font-family='"Liberation Sans", Arial, sans-serif' font-size="85" textLength="510" lengthAdjust="spacing">Modulus (Pa)</text>
<rect x="339.6" y="148.8" width="190.7" height="3" fill="#000000"/>
<circle cx="434.5" cy="150.6" r="20.8" fill="#000000"/>
<text transform="translate(552.7 179.7) scale(1 1.0407)" font-family='"Liberation Sans", Arial, sans-serif' font-size="85" text-anchor="start">G</text>
<text transform="translate(653.3 176.9) scale(1 1.0407)" font-family='"Liberation Sans", Arial, sans-serif' font-size="85" text-anchor="start">'</text>
<text transform="translate(703.1 179.7) scale(1 1.0407)" font-family='"Liberation Sans", Arial, sans-serif' font-size="85" text-anchor="start">(0% NCs)</text>
<rect x="1116.8" y="148.8" width="190.2" height="3" fill="#000000"/>
<circle cx="1211.9" cy="150.6" r="20.6" fill="#000000"/><circle cx="1211.9" cy="150.6" r="16.6" fill="#fff"/>
<text transform="translate(1330.2 179.7) scale(1 1.0407)" font-family='"Liberation Sans", Arial, sans-serif' font-size="85" text-anchor="start">G</text>
<text transform="matrix(0.779 0.169 -0.513 0.804 1380.43 157)" font-family='"Liberation Sans", Arial, sans-serif' font-size="85" stroke="#000" stroke-width="3.5" stroke-linejoin="round">&#8243;</text>
<text transform="translate(1480.6 179.7) scale(1 1.0407)" font-family='"Liberation Sans", Arial, sans-serif' font-size="85" text-anchor="start">(0% NCs)</text>
<rect x="339.6" y="253.8" width="190.7" height="3" fill="#0000FF"/>
<polygon points="434.5,227.9 458.58,269.6 410.42,269.6" fill="#0000FF"/>
<text transform="translate(552.7 284.9) scale(1 1.0407)" font-family='"Liberation Sans", Arial, sans-serif' font-size="85" text-anchor="start">G</text>
<text transform="translate(653.3 282.1) scale(1 1.0407)" font-family='"Liberation Sans", Arial, sans-serif' font-size="85" text-anchor="start">'</text>
<text transform="translate(703.1 284.9) scale(1 1.0407)" font-family='"Liberation Sans", Arial, sans-serif' font-size="85" text-anchor="start">(0.01wt.% NCs)</text>
<rect x="1343" y="253.8" width="189.7" height="3" fill="#0000FF"/>
<polygon points="1437.9,227.9 1461.98,269.6 1413.82,269.6" fill="#0000FF"/><polygon points="1437.9,235.9 1455.05,265.6 1420.75,265.6" fill="#fff"/>
<text transform="translate(1555.9 284.9) scale(1 1.0407)" font-family='"Liberation Sans", Arial, sans-serif' font-size="85" text-anchor="start">G</text>
<text transform="matrix(0.779 0.169 -0.513 0.804 1606.13 262.2)" font-family='"Liberation Sans", Arial, sans-serif' font-size="85" stroke="#000" stroke-width="3.5" stroke-linejoin="round">&#8243;</text>
<text transform="translate(1706.3 284.9) scale(1 1.0407)" font-family='"Liberation Sans", Arial, sans-serif' font-size="85" text-anchor="start">(0.01wt.% NCs)</text>
<rect x="339.6" y="358.9" width="190.7" height="3" fill="#FF0000"/>
<polygon points="434.5,335.3 459.8,360.6 434.5,385.9 409.2,360.6" fill="#FF0000"/>
<text transform="translate(552.7 390.1) scale(1 1.0407)" font-family='"Liberation Sans", Arial, sans-serif' font-size="85" text-anchor="start">G</text>
<text transform="translate(653.3 387.3) scale(1 1.0407)" font-family='"Liberation Sans", Arial, sans-serif' font-size="85" text-anchor="start">'</text>
<text transform="translate(703.1 390.1) scale(1 1.0407)" font-family='"Liberation Sans", Arial, sans-serif' font-size="85" text-anchor="start">(0.1wt.% NCs)</text>
<rect x="1343" y="358.9" width="189.7" height="3" fill="#FF0000"/>
<polygon points="1437.9,335.5 1463,360.6 1437.9,385.7 1412.8,360.6" fill="#FF0000"/><polygon points="1437.9,341.16 1457.34,360.6 1437.9,380.04 1418.46,360.6" fill="#fff"/>
<text transform="translate(1555.9 390.1) scale(1 1.0407)" font-family='"Liberation Sans", Arial, sans-serif' font-size="85" text-anchor="start">G</text>
<text transform="matrix(0.779 0.169 -0.513 0.804 1606.13 367.4)" font-family='"Liberation Sans", Arial, sans-serif' font-size="85" stroke="#000" stroke-width="3.5" stroke-linejoin="round">&#8243;</text>
<text transform="translate(1706.3 390.1) scale(1 1.0407)" font-family='"Liberation Sans", Arial, sans-serif' font-size="85" text-anchor="start">(0.1wt.% NCs)</text>
<rect x="339.6" y="463.8" width="190.7" height="3" fill="#8000FF"/>
<polygon points="434.5,443.2 439.61,458.16 455.42,458.4 442.77,467.89 447.43,483 434.5,473.9 421.57,483 426.23,467.89 413.58,458.4 429.39,458.16" fill="#8000FF" stroke="#8000FF" stroke-width="3" stroke-linejoin="round"/>
<text transform="translate(552.7 495.4) scale(1 1.0407)" font-family='"Liberation Sans", Arial, sans-serif' font-size="85" text-anchor="start">G</text>
<text transform="translate(653.3 492.6) scale(1 1.0407)" font-family='"Liberation Sans", Arial, sans-serif' font-size="85" text-anchor="start">'</text>
<text transform="translate(703.1 495.4) scale(1 1.0407)" font-family='"Liberation Sans", Arial, sans-serif' font-size="85" text-anchor="start">(0.3wt.% NCs)</text>
<rect x="1343" y="463.8" width="189.7" height="3" fill="#8000FF"/>
<polygon points="1437.9,443.2 1443.01,458.16 1458.82,458.4 1446.17,467.89 1450.83,483 1437.9,473.9 1424.97,483 1429.63,467.89 1416.98,458.4 1432.79,458.16" fill="#8000FF" stroke="#8000FF" stroke-width="3" stroke-linejoin="round"/><polygon points="1437.9,451.4 1441,460.94 1451.02,460.94 1442.91,466.83 1446.01,476.36 1437.9,470.47 1429.79,476.36 1432.89,466.83 1424.78,460.94 1434.8,460.94" fill="#fff"/>
<text transform="translate(1555.9 495.4) scale(1 1.0407)" font-family='"Liberation Sans", Arial, sans-serif' font-size="85" text-anchor="start">G</text>
<text transform="matrix(0.779 0.169 -0.513 0.804 1606.13 472.7)" font-family='"Liberation Sans", Arial, sans-serif' font-size="85" stroke="#000" stroke-width="3.5" stroke-linejoin="round">&#8243;</text>
<text transform="translate(1706.3 495.4) scale(1 1.0407)" font-family='"Liberation Sans", Arial, sans-serif' font-size="85" text-anchor="start">(0.3wt.% NCs)</text>
</svg></body></html>
